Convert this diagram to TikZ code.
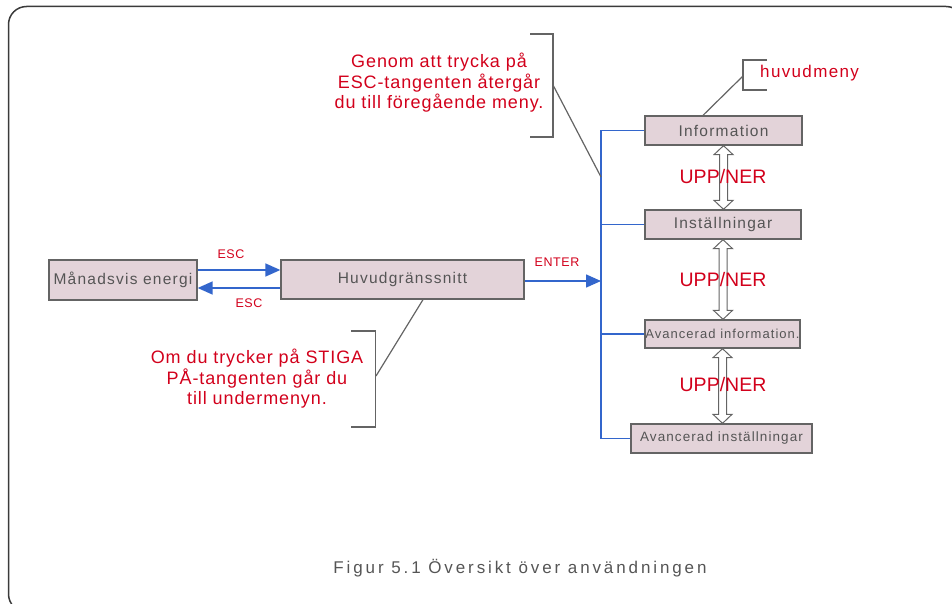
\documentclass[tikz,border=0pt]{standalone}
\usepackage{fontspec}
\setmainfont{Liberation Sans}
\newfontfamily\capfont{Liberation Sans}[LetterSpace=17]
\newfontfamily\boxfont{Liberation Sans}[LetterSpace=8]
\newfontfamily\redfont{Liberation Sans}[LetterSpace=5]
\newfontfamily\plainfont{Liberation Sans}
\usetikzlibrary{calc,arrows.meta}
\definecolor{redtxt}{RGB}{210,0,27}
\definecolor{graytxt}{RGB}{85,85,85}
\definecolor{boxfill}{RGB}{227,211,217}
\definecolor{boxline}{RGB}{100,100,100}
\definecolor{busblue}{RGB}{51,102,204}
\definecolor{frameline}{RGB}{58,58,58}
\tikzset{
  menubox/.style={draw=boxline, line width=1.3pt, fill=boxfill, inner sep=0pt, text=graytxt, font=\boxfont\fontsize{15.5}{18}\selectfont},
  bus/.style={draw=busblue, line width=1.5pt},
  busarrow/.style={bus, -{Triangle[length=15pt,width=13pt]}},
  redlbl/.style={text=redtxt, inner sep=0pt, align=center, font=\redfont\fontsize{18}{20.5}\selectfont},
  smalllbl/.style={text=redtxt, inner sep=0pt, font=\redfont\fontsize{12.5}{14}\selectfont},
  updn/.style={text=redtxt, inner sep=0pt, font=\plainfont\fontsize{19.5}{22}\selectfont},
  hollow/.style={draw=boxline, line width=1pt, fill=white},
  callout/.style={draw=boxline, line width=1.2pt},
}
\newcommand\hollowupdown[2]{%
  \draw[hollow] let \p1=(#1.south), \p2=(#2.north) in
    (\x1,\y1) -- (\x1+9.5pt,\y1-9pt) -- (\x1+4pt,\y1-9pt) -- (\x1+4pt,\y2+9pt)
    -- (\x1+9.5pt,\y2+9pt) -- (\x1,\y2) -- (\x1-9.5pt,\y2+9pt) -- (\x1-4pt,\y2+9pt)
    -- (\x1-4pt,\y1-9pt) -- (\x1-9.5pt,\y1-9pt) -- cycle;}
\begin{document}
\begin{tikzpicture}[x=1pt,y=-1pt]
\useasboundingbox (0,0) rectangle (952,604);
\begin{scope}
\clip (0,0) rectangle (952,604);
\draw[frameline, line width=1.5pt, rounded corners=18pt] (8.5,6.5) rectangle (964,612);
\end{scope}

% boxes
\node[menubox, minimum width=148pt, minimum height=40pt] (mon) at (123,280) {Månadsvis energi};
\node[menubox, minimum width=243pt, minimum height=39pt] (huv) at (402.5,279.5) {Huvudgränssnitt};
\node[menubox, minimum width=157pt, minimum height=29pt] (info) at (723.5,130.5) {Information};
\node[menubox, minimum width=156pt, minimum height=29pt] (inst) at (723,224.5) {Inställningar};
\node[menubox, minimum width=155pt, minimum height=28pt, font=\boxfont\fontsize{13}{15}\selectfont] (avinfo) at (722.5,334) {Avancerad information.};
\node[menubox, minimum width=181pt, minimum height=29pt, font=\boxfont\fontsize{13.5}{15}\selectfont] (avinst) at (721.5,438.5) {Avancerad inställningar};

% bus
\coordinate (bb) at (601,438.5);
\coordinate (bt) at (601,130.5);
\draw[bus] (info.west) -| (bb) -- (avinst.west);
\draw[bus] (inst.west) -- (inst.west -| bt);
\draw[bus] (avinfo.west) -- (avinfo.west -| bt);

% arrows
\draw[busarrow] ([yshift=10pt]mon.east) -- ([yshift=10pt]mon.east -| huv.west);
\draw[busarrow] ([yshift=-8pt]mon.east -| huv.west) -- ([yshift=-8pt]mon.east);
\draw[busarrow] ([yshift=-1.5pt]huv.east) -- ([yshift=-1.5pt]huv.east -| bt);
\node[smalllbl] (esc1) at (231,254) {ESC};
\node[smalllbl] (esc2) at (249,303) {ESC};
\node[smalllbl] (enter) at (557,262) {ENTER};

% up/down arrows
\hollowupdown{info}{inst}
\hollowupdown{inst}{avinfo}
\hollowupdown{avinfo}{avinst}
\node[updn] (ud1) at (723,177) {UPP/NER};
\node[updn] (ud2) at (723,280) {UPP/NER};
\node[updn] (ud3) at (723,385) {UPP/NER};

% huvudmeny callout
\node[text=redtxt, inner sep=0pt, anchor=west, font=\boxfont\fontsize{17}{20}\selectfont] (hm) at (760,73) {huvudmeny};
\coordinate (hmb) at (743,76);
\coordinate (hmt) at ([xshift=-20.5pt]info.north);
\draw[callout] (767,60) -- (743,60) -- (743,90) -- (767,90);
\draw[callout] (hmb) -- (hmt);

% Genom callout
\node[redlbl] (genom) at (439,83) {Genom att trycka på\\ESC-tangenten återgår\\du till föregående meny.};
\coordinate (gb) at (553,85);
\coordinate (gt) at (601,177);
\draw[callout] (530,34) -- (553,34) -- (553,137) -- (530,137);
\draw[callout] (gb) -- (gt);

% Om callout
\node[redlbl] (om) at (257,379) {Om du trycker på STIGA\\PÅ-tangenten går du\\till undermenyn.};
\coordinate (ob) at (376,376);
\coordinate (ot) at ([xshift=20.5pt]huv.south);
\draw[callout] (351,331) -- (375.5,331) -- (375.5,427) -- (351,427);
\draw[callout] (ob) -- (ot);

% caption
\node[text=graytxt, inner sep=0pt, font=\capfont\fontsize{17}{20}\selectfont] (cap) at (520,568) {Figur 5.1 Översikt över användningen};
\end{tikzpicture}
\end{document}
